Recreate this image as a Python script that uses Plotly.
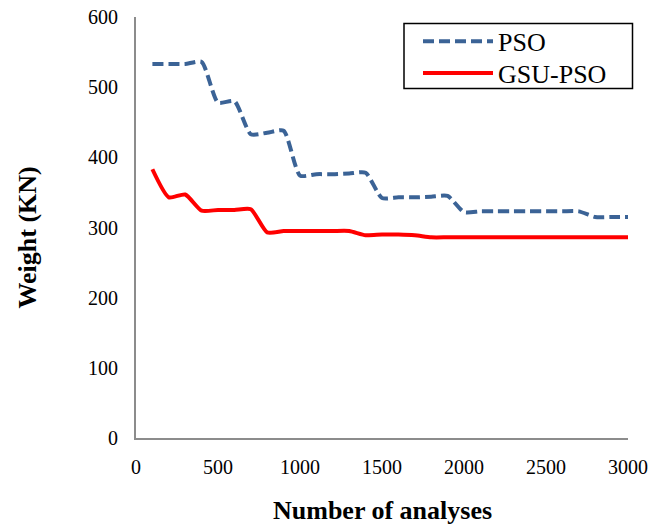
import plotly.graph_objects as go

analyses = [100, 200, 300, 400, 500, 600, 700, 800, 900, 1000,
            1100, 1200, 1300, 1400, 1500, 1600, 1700, 1800, 1900, 2000,
            2100, 2200, 2300, 2400, 2500, 2600, 2700, 2800, 2900, 3000]

pso = [533, 533, 533, 536, 478, 480, 433, 435, 438, 374,
       376, 376, 377, 378, 342, 343, 343, 344, 345, 322,
       323, 323, 323, 323, 323, 323, 323, 315, 315, 315]

gsu_pso = [383, 343, 347, 324, 325, 325, 326, 293, 295, 295,
           295, 295, 295, 289, 290, 290, 289, 286, 286, 286,
           286, 286, 286, 286, 286, 286, 286, 286, 286, 286]

x_ticks = [0, 500, 1000, 1500, 2000, 2500, 3000]
y_ticks = [0, 100, 200, 300, 400, 500, 600]

x_title = "Number of analyses"
y_title = "Weight (KN)"

FONT = "Liberation Serif, Times New Roman, serif"

W, H = 649, 527
PL, PR, PT, PB = 136, W - 628, 17, H - 438
PW, PH = 492, 421


def px(xp):  # page x -> paper x
    return (xp - 136) / PW


def py(yp):  # page y -> paper y
    return (438 - yp) / PH


fig = go.Figure()
fig.add_trace(go.Scatter(
    x=analyses, y=pso, name="PSO", mode="lines", legend="legend",
    line=dict(color="#3B6396", width=4, dash="11px,5px", shape="spline", smoothing=0.6),
))
fig.add_trace(go.Scatter(
    x=analyses, y=gsu_pso, name="GSU-PSO", mode="lines", legend="legend2",
    line=dict(color="#FF0000", width=4, shape="spline", smoothing=0.6),
))

leg_common = dict(
    xanchor="left", yanchor="middle", bgcolor="rgba(0,0,0,0)",
    borderwidth=0, font=dict(family=FONT, size=26, color="black"),
    itemwidth=70,
)

fig.update_layout(
    width=W, height=H,
    margin=dict(l=PL, r=PR, t=PT, b=PB, autoexpand=False),
    paper_bgcolor="white", plot_bgcolor="white",
    font=dict(family=FONT, size=20, color="black"),
    showlegend=True,
    legend=dict(x=px(418), y=py(41.3), **leg_common),
    legend2=dict(x=px(418), y=py(73), **leg_common),
    xaxis=dict(
        range=[0, 3000], tickvals=x_ticks, showgrid=False, zeroline=False,
        showline=True, linecolor="#8C8C8C", linewidth=2, automargin=False,
        ticks="", ticklabelstandoff=10, ticklabeloverflow="allow",
        tickfont=dict(family=FONT, size=20, color="black"),
    ),
    yaxis=dict(
        range=[0, 600], tickvals=y_ticks, showgrid=False, zeroline=False,
        showline=True, linecolor="#8C8C8C", linewidth=2, automargin=False,
        ticks="", ticklabelstandoff=12, ticklabeloverflow="allow",
        tickfont=dict(family=FONT, size=20, color="black"),
    ),
    shapes=[
        dict(type="rect", xref="paper", yref="paper",
             x0=px(404), x1=px(632.5), y0=py(88.5), y1=py(23.5),
             line=dict(color="black", width=1.5), fillcolor="rgba(0,0,0,0)"),
    ],
    annotations=[
        dict(text="<b>" + x_title + "</b>", xref="paper", yref="paper",
             x=0.5, y=py(511), xanchor="center", yanchor="middle",
             showarrow=False, font=dict(family=FONT, size=26, color="black")),
        dict(text="<b>" + y_title + "</b>", xref="paper", yref="paper",
             x=px(27), y=py(237.5), xanchor="center", yanchor="middle",
             textangle=-90, showarrow=False, font=dict(family=FONT, size=26, color="black")),
    ],
)

fig.write_html(
    "out.html",
    config={"displayModeBar": False},
    post_script="document.body.style.margin='0';document.body.style.overflow='hidden';",
)
